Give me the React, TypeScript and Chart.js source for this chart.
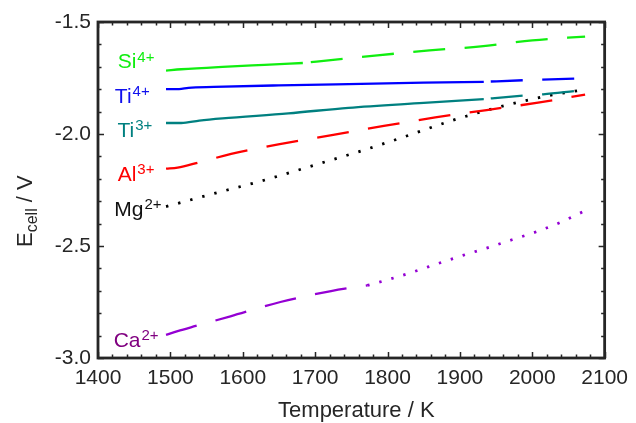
import { useEffect, useRef } from 'react';
import { Chart, registerables } from 'chart.js';

Chart.register(...registerables);

// ---- data (Temperature / K, E_cell / V) ----
const siSolidT = [1494, 1515, 1572, 1630, 1683];
const siSolidE = [-1.717, -1.711, -1.7, -1.691, -1.683];
const siDashT = [1683, 1738, 1786, 1858, 1929, 2000, 2073];
const siDashE = [-1.683, -1.665, -1.649, -1.627, -1.609, -1.582, -1.565];

const ti4SolidT = [1494, 1512, 1525, 1560, 1650, 1746, 1850, 1933];
const ti4SolidE = [-1.8, -1.8, -1.794, -1.79, -1.783, -1.777, -1.771, -1.767];
const ti4DashT = [1933, 1987, 2059];
const ti4DashE = [-1.767, -1.76, -1.753];

const ti3SolidT = [1494, 1515, 1540, 1572, 1663, 1746, 1850, 1933];
const ti3SolidE = [-1.951, -1.951, -1.94, -1.93, -1.908, -1.883, -1.861, -1.844];
const ti3DashT = [1933, 1943, 1987, 2015, 2059];
const ti3DashE = [-1.844, -1.841, -1.829, -1.823, -1.808];

const alT = [1494, 1510, 1538, 1584, 1655, 1725, 1795, 1866, 1937, 2008, 2073];
const alE = [-2.155, -2.15, -2.128, -2.089, -2.043, -2.004, -1.964, -1.926, -1.893, -1.86, -1.824];

const mgT = [1494, 1560, 1631, 1700, 1771, 1820, 1888, 1956, 2026, 2062];
const mgE = [-2.324, -2.266, -2.205, -2.138, -2.068, -2.016, -1.941, -1.878, -1.827, -1.807];

const caDashT = [1494, 1510, 1535, 1583, 1652, 1722, 1772];
const caDashE = [-2.897, -2.88, -2.857, -2.814, -2.75, -2.701, -2.676];
const caDotT = [1772, 1802, 1836, 1870, 1904, 1938, 1972, 2006, 2040, 2072];
const caDotE = [-2.676, -2.649, -2.615, -2.578, -2.542, -2.508, -2.472, -2.436, -2.393, -2.344];

// series labels: name, charge, anchor (right edge T, baseline E)
const labelNames = ['Si', 'Ti', 'Ti', 'Al', 'Mg', 'Ca'];
const labelCharges = ['4+', '4+', '3+', '3+', '2+', '2+'];
const labelT = [1478, 1471.4, 1475, 1478, 1487.8, 1483.7];
const labelE = [-1.7067, -1.8616, -2.012, -2.2085, -2.366, -2.9496];

const xTicksMajor = [1400, 1500, 1600, 1700, 1800, 1900, 2000, 2100];

const C_SI = '#10ee10';
const C_TI4 = '#0000ff';
const C_TI3 = '#008080';
const C_AL = '#ff0000';
const C_MG = '#000000';
const C_CA = '#9400d3';
const labelColors = [C_SI, '#1010ee', C_TI3, C_AL, '#111111', '#800080'];

const FONT = '"Liberation Sans", Arial, Helvetica, sans-serif';
const INK = '#262626';

const DASH = [32, 19.5];
const DOT = [2.4, 10.1];

function pts(t: number[], e: number[]) {
  return t.map((x, i) => ({ x, y: e[i] }));
}

function ds(t: number[], e: number[], color: string, dash: number[], offset = 0) {
  return {
    data: pts(t, e),
    borderColor: color,
    backgroundColor: color,
    borderWidth: dash === DOT ? 2.8 : 2.3,
    borderDash: dash,
    borderDashOffset: offset,
    pointRadius: 0,
    fill: false,
    cubicInterpolationMode: 'monotone' as const,
  };
}

const framePlugin = {
  id: 'frame',
  afterDraw(chart: any) {
    const { ctx, chartArea: a, scales } = chart;
    const x = scales.x;
    const y = scales.y;
    ctx.save();
    ctx.strokeStyle = INK;
    ctx.lineWidth = 1.5;
    ctx.beginPath();
    for (let i = 0; i <= 35; i++) {
      const t = 1400 + i * 20;
      const px = Math.round(x.getPixelForValue(t)) + 0.5;
      const len = i % 5 === 0 ? 6 : 3.5;
      ctx.moveTo(px, a.bottom);
      ctx.lineTo(px, a.bottom - len);
      ctx.moveTo(px, a.top);
      ctx.lineTo(px, a.top + len);
    }
    for (let i = 0; i <= 15; i++) {
      const v = -3 + i * 0.1;
      const py = Math.round(y.getPixelForValue(v)) + 0.5;
      const len = i % 5 === 0 ? 6 : 3.5;
      ctx.moveTo(a.left, py);
      ctx.lineTo(a.left + len, py);
      ctx.moveTo(a.right, py);
      ctx.lineTo(a.right - len, py);
    }
    ctx.stroke();
    ctx.lineWidth = 2.8;
    ctx.strokeRect(a.left, a.top, a.right - a.left, a.bottom - a.top);

    // series labels
    ctx.textAlign = 'left';
    ctx.textBaseline = 'alphabetic';
    for (let i = 0; i < labelNames.length; i++) {
      const rx = x.getPixelForValue(labelT[i]);
      const by = y.getPixelForValue(labelE[i]);
      ctx.font = `21px ${FONT}`;
      const wm = ctx.measureText(labelNames[i]).width;
      ctx.font = `15px ${FONT}`;
      const ws = ctx.measureText(labelCharges[i]).width;
      const sx = rx - wm - ws - 1;
      ctx.fillStyle = labelColors[i];
      ctx.font = `21px ${FONT}`;
      ctx.fillText(labelNames[i], sx, by);
      ctx.font = `15px ${FONT}`;
      ctx.fillText(labelCharges[i], sx + wm + 1, by - 6.5);
    }

    // x title
    ctx.fillStyle = INK;
    ctx.textAlign = 'center';
    ctx.font = `22px ${FONT}`;
    ctx.fillText('Temperature / K', (a.left + a.right) / 2 + 5, 416.5);

    // y title
    ctx.save();
    ctx.translate(32, 247);
    ctx.rotate(-Math.PI / 2);
    ctx.textAlign = 'left';
    ctx.font = `22px ${FONT}`;
    ctx.fillText('E', 0, 0);
    const wE = ctx.measureText('E').width;
    ctx.font = `16px ${FONT}`;
    ctx.fillText('cell', wE, 5);
    const wC = ctx.measureText('cell').width;
    ctx.font = `22px ${FONT}`;
    ctx.fillText(' / V', wE + wC, 0);
    ctx.restore();

    ctx.restore();
  },
};

export default function App() {
  const ref = useRef<HTMLCanvasElement | null>(null);
  useEffect(() => {
    document.body.style.margin = '0';
    const canvas = ref.current;
    if (!canvas) return;
    const chart = new Chart(canvas, {
      type: 'line',
      data: {
        datasets: [
          ds(siSolidT, siSolidE, C_SI, []),
          ds(siDashT, siDashE, C_SI, DASH, 43.5),
          ds(ti4SolidT, ti4SolidE, C_TI4, []),
          ds(ti4DashT, ti4DashE, C_TI4, DASH, 44.5),
          ds(ti3SolidT, ti3SolidE, C_TI3, []),
          ds(ti3DashT, ti3DashE, C_TI3, DASH, 44.5),
          ds(alT, alE, C_AL, DASH, 0),
          ds(mgT, mgE, C_MG, DOT, 0),
          ds(caDashT, caDashE, C_CA, DASH, 0),
          ds(caDotT, caDotE, C_CA, DOT, 0),
        ] as any,
      },
      options: {
        responsive: false,
        animation: false,
        devicePixelRatio: 1,
        layout: { padding: { left: 0, top: 22, right: 28, bottom: 0 } },
        plugins: { legend: { display: false }, tooltip: { enabled: false } },
        scales: {
          x: {
            type: 'linear',
            min: 1400,
            max: 2100,
            grid: { display: false, drawTicks: false },
            border: { display: false },
            afterBuildTicks: (s: any) => {
              s.ticks = xTicksMajor.map((v) => ({ value: v }));
            },
            afterFit: (s: any) => {
              s.height = 65;
            },
            ticks: {
              padding: 8,
              maxRotation: 0,
              autoSkip: false,
              color: INK,
              font: { family: FONT, size: 21 },
              callback: (v: any) => String(Math.round(Number(v))),
            },
          },
          y: {
            type: 'linear',
            min: -3,
            max: -1.5,
            grid: { display: false, drawTicks: false },
            border: { display: false },
            afterFit: (s: any) => {
              s.width = 98;
            },
            ticks: {
              stepSize: 0.5,
              padding: 7,
              color: INK,
              font: { family: FONT, size: 21 },
              callback: (v: any) => Number(v).toFixed(1),
            },
          },
        },
      },
      plugins: [framePlugin],
    });
    return () => chart.destroy();
  }, []);
  return (
    <div style={{ position: 'fixed', left: 0, top: 0, width: 636, height: 423, background: '#fff' }}>
      <canvas ref={ref} width={636} height={423} />
    </div>
  );
}
